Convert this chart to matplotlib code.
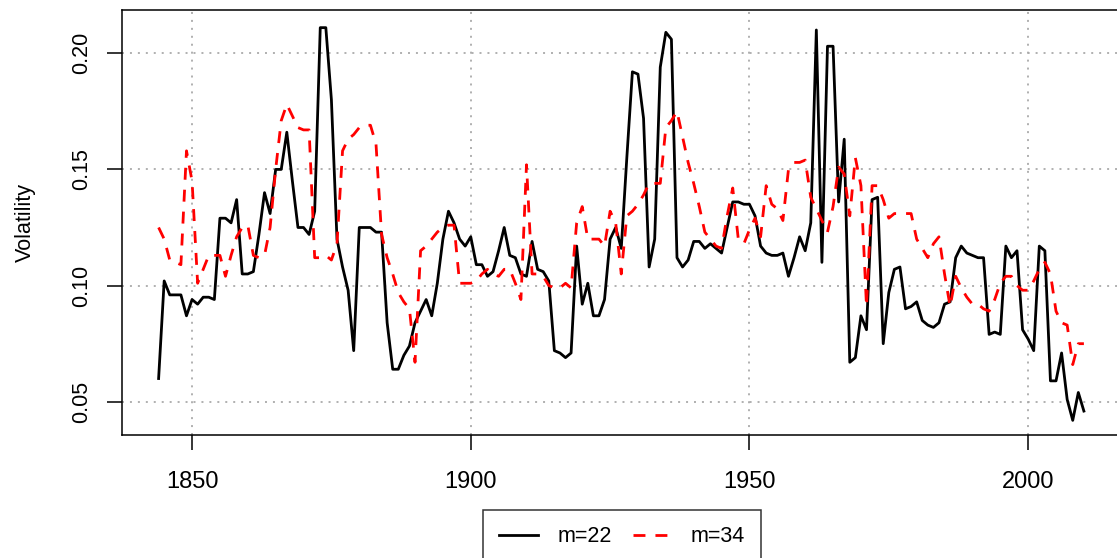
import matplotlib
matplotlib.use('Agg')
import matplotlib.pyplot as plt
import numpy as np

plt.rcParams['font.family'] = ['Liberation Sans', 'DejaVu Sans']

# yearly series, 1844..2010
years = np.arange(1844, 2011)

vol_m22 = [
    0.060, 0.102, 0.096, 0.096, 0.096, 0.087,                              # 1844-1849
    0.094, 0.092, 0.095, 0.095, 0.094, 0.129, 0.129, 0.127, 0.137, 0.105,  # 1850s
    0.105, 0.106, 0.122, 0.140, 0.131, 0.150, 0.150, 0.166, 0.145, 0.125,  # 1860s
    0.125, 0.122, 0.132, 0.211, 0.211, 0.180, 0.120, 0.108, 0.098, 0.072,  # 1870s
    0.125, 0.125, 0.125, 0.123, 0.123, 0.084, 0.064, 0.064, 0.070, 0.074,  # 1880s
    0.084, 0.089, 0.094, 0.087, 0.101, 0.120, 0.132, 0.127, 0.120, 0.117,  # 1890s
    0.121, 0.109, 0.109, 0.104, 0.106, 0.115, 0.125, 0.113, 0.112, 0.105,  # 1900s
    0.104, 0.119, 0.107, 0.106, 0.102, 0.072, 0.071, 0.069, 0.071, 0.117,  # 1910s
    0.092, 0.101, 0.087, 0.087, 0.094, 0.120, 0.125, 0.116, 0.155, 0.192,  # 1920s
    0.191, 0.172, 0.108, 0.120, 0.194, 0.209, 0.206, 0.112, 0.108, 0.111,  # 1930s
    0.119, 0.119, 0.116, 0.118, 0.116, 0.114, 0.125, 0.136, 0.136, 0.135,  # 1940s
    0.135, 0.130, 0.117, 0.114, 0.113, 0.113, 0.114, 0.104, 0.112, 0.121,  # 1950s
    0.115, 0.127, 0.210, 0.110, 0.203, 0.203, 0.136, 0.163, 0.067, 0.069,  # 1960s
    0.087, 0.081, 0.137, 0.138, 0.075, 0.097, 0.107, 0.108, 0.090, 0.091,  # 1970s
    0.093, 0.085, 0.083, 0.082, 0.084, 0.092, 0.093, 0.112, 0.117, 0.114,  # 1980s
    0.113, 0.112, 0.112, 0.079, 0.080, 0.079, 0.117, 0.112, 0.115, 0.081,  # 1990s
    0.077, 0.072, 0.117, 0.115, 0.059, 0.059, 0.071, 0.051, 0.042, 0.054,  # 2000s
    0.046,                                                                 # 2010
]

vol_m34 = [
    0.125, 0.120, 0.111, 0.110, 0.109, 0.158,
    0.145, 0.101, 0.107, 0.113, 0.113, 0.113, 0.104, 0.113, 0.121, 0.125,
    0.126, 0.113, 0.112, 0.113, 0.125, 0.150, 0.171, 0.178, 0.173, 0.168,
    0.167, 0.167, 0.112, 0.112, 0.113, 0.111, 0.118, 0.158, 0.163, 0.165,
    0.168, 0.169, 0.169, 0.161, 0.122, 0.112, 0.105, 0.097, 0.093, 0.090,
    0.067, 0.115, 0.117, 0.120, 0.123, 0.125, 0.126, 0.126, 0.101, 0.101,
    0.101, 0.102, 0.105, 0.107, 0.105, 0.104, 0.107, 0.107, 0.101, 0.094,
    0.152, 0.105, 0.105, 0.104, 0.100, 0.099, 0.099, 0.101, 0.099, 0.127,
    0.134, 0.120, 0.120, 0.120, 0.117, 0.132, 0.127, 0.105, 0.130, 0.132,
    0.135, 0.139, 0.144, 0.144, 0.144, 0.168, 0.171, 0.175, 0.164, 0.153,
    0.144, 0.134, 0.123, 0.120, 0.117, 0.116, 0.130, 0.142, 0.120, 0.118,
    0.124, 0.129, 0.121, 0.143, 0.135, 0.133, 0.128, 0.150, 0.153, 0.153,
    0.154, 0.138, 0.133, 0.128, 0.123, 0.134, 0.151, 0.148, 0.130, 0.155,
    0.143, 0.091, 0.143, 0.143, 0.137, 0.129, 0.131, 0.131, 0.131, 0.131,
    0.120, 0.116, 0.112, 0.118, 0.121, 0.105, 0.091, 0.104, 0.099, 0.095,
    0.092, 0.092, 0.090, 0.089, 0.094, 0.101, 0.104, 0.104, 0.100, 0.098,
    0.098, 0.102, 0.107, 0.110, 0.105, 0.089, 0.084, 0.083, 0.066, 0.075,
    0.075,
]

x_ticks = [1850, 1900, 1950, 2000]
y_ticks = [0.05, 0.10, 0.15, 0.20]
labels = ['m=22', 'm=34']

W, H = 1117, 558
fig = plt.figure(figsize=(W / 100, H / 100), dpi=100)
# plot region runs past the right edge of the picture, like the original crop
ax = fig.add_axes([121.6 / W, 1 - 435 / H, 999.3 / W, 425 / H])

ax.plot(years, vol_m22, color='black', lw=2.0, label=labels[0])
ax.plot(years, vol_m34, color='#ff0000', lw=2.0, dashes=(4.3, 3.6), label=labels[1])

ax.set_xlim(1837.36, 2016.64)
ax.set_ylim(0.0357, 0.2186)
ax.set_xticks(x_ticks)
ax.set_yticks(y_ticks)
ax.set_xticklabels([str(t) for t in x_ticks], fontsize=17)
ax.set_yticklabels([f'{t:.2f}' for t in y_ticks], fontsize=15.5, rotation=90, va='center')
ax.tick_params(direction='out', length=10.8, width=1.1, color='black')
ax.tick_params(axis='x', pad=15)
ax.tick_params(axis='y', pad=10.5)

for t in x_ticks:
    ax.axvline(t, color='#aaaaaa', lw=1.3, ls=(0, (1.1, 3.3)), zorder=0)
for t in y_ticks:
    ax.axhline(t, color='#aaaaaa', lw=1.3, ls=(0, (1.1, 3.3)), zorder=0)

for s in ax.spines.values():
    s.set_linewidth(1.1)
    s.set_color('black')

ax.set_ylabel('Volatility', fontsize=15.5)
ax.yaxis.set_label_coords((36 - 121.6) / 999.3, 0.5)

leg = fig.legend(loc='upper center', bbox_to_anchor=(622 / W, 1 - 510 / H), ncol=2,
                 fontsize=15.5, frameon=True, fancybox=False, edgecolor='black',
                 handlelength=1.8, handletextpad=0.88, columnspacing=0.98,
                 borderpad=0.75, borderaxespad=0)
leg.get_frame().set_linewidth(1.1)

fig.savefig('out.png', dpi=100, facecolor='white')
